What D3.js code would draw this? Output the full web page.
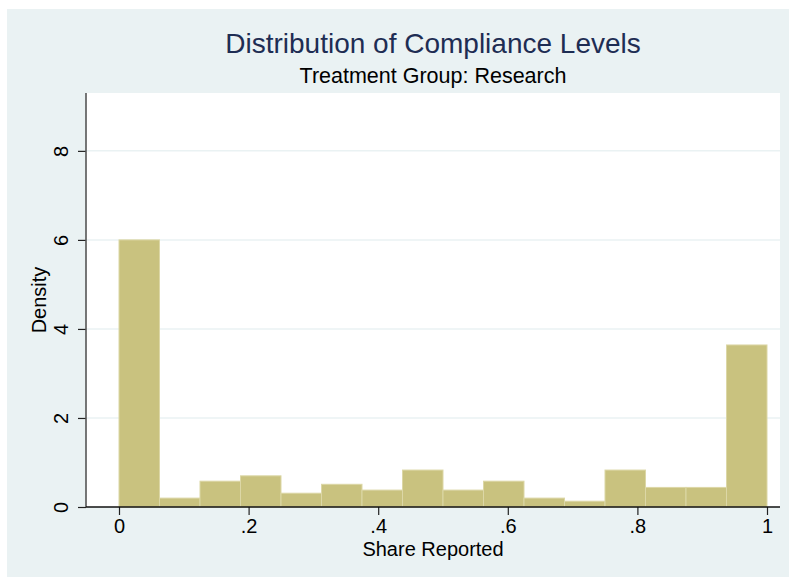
<!DOCTYPE html>
<html>
<head>
<meta charset="utf-8">
<script src="https://cdn.jsdelivr.net/npm/d3@7"></script>
<style>
  body { margin: 0; background: #fff; }
  text { font-family: "Liberation Sans", Arial, sans-serif; }
</style>
</head>
<body>
<svg width="789" height="578"></svg>
<script>
var svg = d3.select("svg");

// histogram bins (lower edge, upper edge) and densities
var binLo = [0, .0625, .125, .1875, .25, .3125, .375, .4375, .5, .5625, .625, .6875, .75, .8125, .875, .9375];
var binHi = [.0625, .125, .1875, .25, .3125, .375, .4375, .5, .5625, .625, .6875, .75, .8125, .875, .9375, 1];
var density = [6.0, 0.2, 0.58, 0.7, 0.31, 0.51, 0.38, 0.83, 0.38, 0.58, 0.2, 0.13, 0.83, 0.44, 0.44, 3.64];
var xTicks = [0, .2, .4, .6, .8, 1];
var xTickLabels = ["0", ".2", ".4", ".6", ".8", "1"];
var yTicks = [0, 2, 4, 6, 8];

var plot = { left: 86, right: 780, top: 93, bottom: 507 };

var x = d3.scaleLinear().domain([0, 1]).range([119, 767]);
var y = d3.scaleLinear().domain([0, 9.3]).range([plot.bottom, plot.top]);

// outer background
svg.append("rect")
    .attr("x", 7).attr("y", 9)
    .attr("width", 782).attr("height", 568)
    .style("fill", "#eaf2f3");

svg.append("rect")
    .attr("x", plot.left).attr("y", plot.top)
    .attr("width", plot.right - plot.left).attr("height", plot.bottom - plot.top)
    .style("fill", "#fff");

// grid
svg.append("g").selectAll("line")
    .data(yTicks.filter(function (d) { return d > 0; }))
    .enter().append("line")
    .attr("x1", plot.left).attr("x2", plot.right)
    .attr("y1", function (d) { return y(d); })
    .attr("y2", function (d) { return y(d); })
    .style("stroke", "#eaf2f3")
    .style("stroke-width", 1.5);

// bars
svg.append("g").selectAll("rect")
    .data(density)
    .enter().append("rect")
    .attr("x", function (d, i) { return x(binLo[i]); })
    .attr("width", function (d, i) { return x(binHi[i]) - x(binLo[i]); })
    .attr("y", function (d) { return y(d); })
    .attr("height", function (d) { return y(0) - y(d); })
    .style("fill", "#c9c27f")
    .style("stroke", "#dcd7a6")
    .style("stroke-width", 1);

// y axis
var yAxis = d3.axisLeft(y).tickValues(yTicks).tickSize(8).tickPadding(10).tickFormat(d3.format("d"));
var gy = svg.append("g").attr("transform", "translate(" + plot.left + ",0)").call(yAxis);
gy.select(".domain").remove();
gy.selectAll(".tick line").style("stroke", "#222").style("stroke-width", 1.2);
gy.selectAll(".tick text")
    .attr("transform", function () { return "rotate(-90," + (-18) + ",0)"; })
    .attr("x", -18).attr("y", 0).attr("dy", "0")
    .style("text-anchor", "middle")
    .style("font-size", "20px")
    .style("fill", "#000");
svg.append("line")
    .attr("x1", plot.left).attr("x2", plot.left)
    .attr("y1", plot.top).attr("y2", plot.bottom)
    .style("stroke", "#555").style("stroke-width", 1.6);

// x axis
var xAxis = d3.axisBottom(x).tickValues(xTicks).tickSize(8).tickPadding(4)
    .tickFormat(function (d, i) { return xTickLabels[i]; });
var gx = svg.append("g").attr("transform", "translate(0," + plot.bottom + ")").call(xAxis);
gx.select(".domain").remove();
gx.selectAll(".tick line").style("stroke", "#222").style("stroke-width", 1.2);
gx.selectAll(".tick text").style("font-size", "20px").style("fill", "#000");
svg.append("line")
    .attr("x1", plot.left).attr("x2", plot.right)
    .attr("y1", plot.bottom).attr("y2", plot.bottom)
    .style("stroke", "#111").style("stroke-width", 1.6);

// titles
var cx = (plot.left + plot.right) / 2;
svg.append("text").attr("x", cx).attr("y", 53)
    .attr("text-anchor", "middle")
    .style("font-size", "28px").style("fill", "#1e2d53")
    .text("Distribution of Compliance Levels");
svg.append("text").attr("x", cx).attr("y", 83)
    .attr("text-anchor", "middle")
    .style("font-size", "21.5px").style("fill", "#000")
    .text("Treatment Group: Research");
svg.append("text").attr("x", cx).attr("y", 556)
    .attr("text-anchor", "middle")
    .style("font-size", "20px").style("fill", "#000")
    .text("Share Reported");
svg.append("text")
    .attr("transform", "translate(46," + ((plot.top + plot.bottom) / 2) + ") rotate(-90)")
    .attr("text-anchor", "middle")
    .style("font-size", "20px").style("fill", "#000")
    .text("Density");
</script>
</body>
</html>
